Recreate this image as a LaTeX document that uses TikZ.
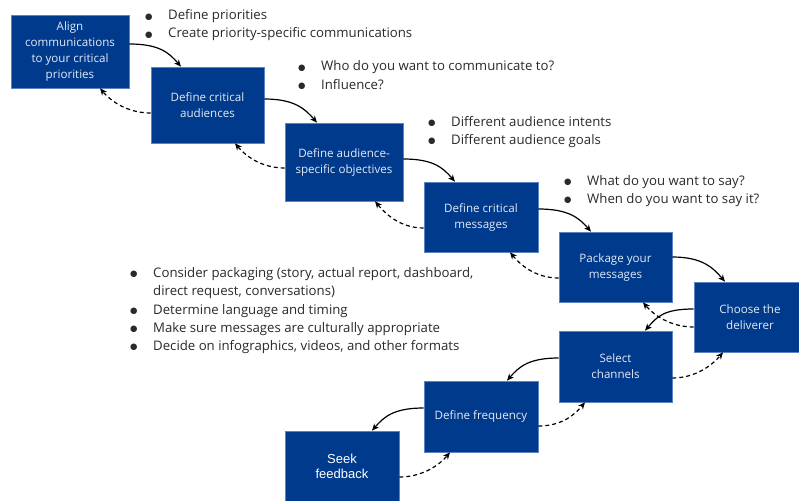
\documentclass[tikz,border=0pt]{standalone}
\usepackage{fontspec}
\setmainfont{Open Sans}
\newfontfamily\arialf{Liberation Sans}
\newfontfamily\dejavuf{DejaVu Sans}
\usetikzlibrary{arrows.meta,calc}
\definecolor{boxblue}{HTML}{003A8C}
\definecolor{boxedge}{HTML}{5B84C4}
\definecolor{boxtext}{HTML}{E4EAF4}
\definecolor{listtext}{HTML}{2A2A2A}
\newcommand{\blt}{\makebox[23pt][l]{\raisebox{0.6pt}{\dejavuf\fontsize{8.5}{9}\selectfont ●}}}
\tikzset{
  stepbox/.style={draw=boxedge,line width=0.6pt,fill=boxblue,text=boxtext,
    inner sep=2pt,align=center,font=\fontsize{11.6}{16}\selectfont},
  solidarr/.style={line width=1.2pt,-{Stealth[length=7pt,width=6pt]}},
  dasharr/.style={line width=1.2pt,dash pattern=on 4pt off 3pt,-{Stealth[length=7pt,width=6pt]}},
  bl/.style={anchor=base west,inner sep=0pt,text=listtext,font=\fontsize{13.2}{18}\selectfont}
}
\begin{document}
\begin{tikzpicture}[x=1pt,y=-1pt]
\useasboundingbox (0,0) rectangle (799,500);
\fill[white] (0,0) rectangle (799,500);
% boxes
\node[stepbox,minimum width=118pt,minimum height=73pt] (b1) at (70,51.5) {Align\\communications\\to your critical\\priorities};
\node[stepbox,minimum width=113pt,minimum height=76pt] (b2) at (207.5,105) {Define critical\\audiences};
\node[stepbox,minimum width=118pt,minimum height=78pt] (b3) at (344,162) {Define audience-\\specific objectives};
\node[stepbox,minimum width=114pt,minimum height=70pt] (b4) at (481,217) {Define critical\\messages};
\node[stepbox,minimum width=113pt,minimum height=70pt] (b5) at (615.5,267) {Package your\\messages};
\node[stepbox,minimum width=112pt,minimum height=70pt] (b6) at (750,317) {Choose the\\deliverer};
\node[stepbox,minimum width=113pt,minimum height=71pt] (b7) at (615.5,366.5) {Select\\channels};
\node[stepbox,minimum width=114pt,minimum height=71pt] (b8) at (481,416.5) {Define frequency};
\node[stepbox,minimum width=114pt,minimum height=70pt,text=white,font=\arialf\fontsize{13}{15}\selectfont] (b9) at (342,466) {Seek\\feedback};
% solid forward arrows (down-right part)
\draw[solidarr] ($(b1.east)+(0,-7.5)$) .. controls +(30,0) and +(-12,-14) .. ($(b2.north)+(-26.5,0)$);
\draw[solidarr] ($(b2.east)+(0,-6)$) .. controls +(30,0) and +(-12,-14) .. ($(b3.north)+(-27,0)$);
\draw[solidarr] ($(b3.east)+(0,-3)$) .. controls +(30,0) and +(-12,-14) .. ($(b4.north)+(-26,0)$);
\draw[solidarr] ($(b4.east)+(0,-8)$) .. controls +(30,0) and +(-12,-14) .. ($(b5.north)+(-24.5,0)$);
\draw[solidarr] ($(b5.east)+(0,-10)$) .. controls +(30,0) and +(-12,-14) .. ($(b6.north)+(-25,0)$);
% solid forward arrows (down-left part)
\draw[solidarr] ($(b6.west)+(0,-8)$) .. controls +(-30,0) and +(12,-14) .. ($(b7.north)+(29.5,0)$);
\draw[solidarr] ($(b7.west)+(0,-8.5)$) .. controls +(-30,0) and +(12,-14) .. ($(b8.north)+(26,0)$);
\draw[solidarr] ($(b8.west)+(0,-8.5)$) .. controls +(-30,0) and +(12,-14) .. ($(b9.north)+(30,0)$);
% dashed backward arrows
\draw[dasharr] ($(b2.west)+(0,8)$) .. controls +(-24,0) and +(10,12) .. ($(b1.south)+(30,0)$);
\draw[dasharr] ($(b3.west)+(0,6)$) .. controls +(-24,0) and +(10,12) .. ($(b2.south)+(27.5,0)$);
\draw[dasharr] ($(b4.west)+(0,11)$) .. controls +(-24,0) and +(10,12) .. ($(b3.south)+(31,0)$);
\draw[dasharr] ($(b5.west)+(0,11)$) .. controls +(-24,0) and +(10,12) .. ($(b4.south)+(29,0)$);
\draw[dasharr] ($(b6.west)+(0,10)$) .. controls +(-24,0) and +(10,12) .. ($(b5.south)+(27.5,0)$);
\draw[dasharr] ($(b7.east)+(0,11.5)$) .. controls +(24,0) and +(-10,12) .. ($(b6.south)+(-27,0)$);
\draw[dasharr] ($(b8.east)+(0,9.5)$) .. controls +(24,0) and +(-10,12) .. ($(b7.south)+(-30.5,0)$);
\draw[dasharr] ($(b9.east)+(0,11)$) .. controls +(24,0) and +(-10,12) .. ($(b8.south)+(-31,0)$);
% bullet lists
\node[bl] (l1a) at (145,20) {\blt Define priorities};
\node[bl] (l1b) at (145,38) {\blt Create priority-specific communications};
\node[bl] (l2a) at (298,71) {\blt Who do you want to communicate to?};
\node[bl] (l2b) at (298,89) {\blt Influence?};
\node[bl] (l3a) at (428,126) {\blt Different audience intents};
\node[bl] (l3b) at (428,144) {\blt Different audience goals};
\node[bl] (l4a) at (564,185) {\blt What do you want to say?};
\node[bl] (l4b) at (564,203) {\blt When do you want to say it?};
\node[bl] (l5a) at (130,277) {\blt Consider packaging (story, actual report, dashboard,};
\node[bl] (l5b) at (130,295) {\hspace*{23pt}direct request, conversations)};
\node[bl] (l5c) at (130,314.5) {\blt Determine language and timing};
\node[bl] (l5d) at (130,332.5) {\blt Make sure messages are culturally appropriate};
\node[bl] (l5e) at (130,350.5) {\blt Decide on infographics, videos, and other formats};
\end{tikzpicture}
\end{document}
